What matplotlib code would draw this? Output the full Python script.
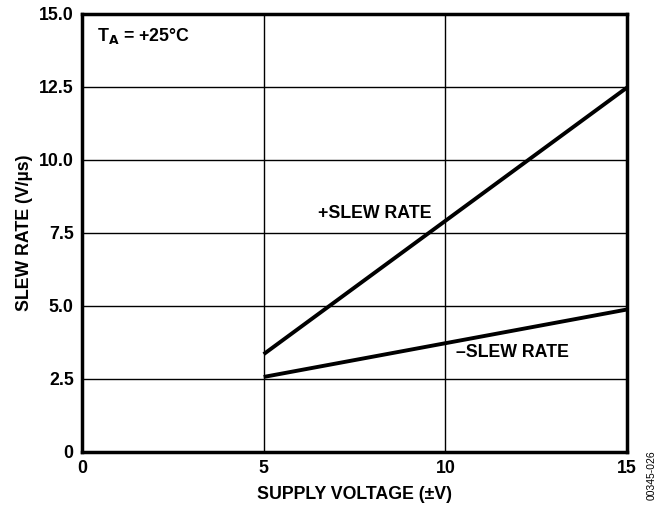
import matplotlib
matplotlib.use('Agg')
import matplotlib.pyplot as plt

# --- Data ---
supply_v = [5, 15]
slew_pos = [3.35, 12.48]
slew_neg = [2.57, 4.88]
x_ticks = [0, 5, 10, 15]
y_ticks = [0, 2.5, 5.0, 7.5, 10.0, 12.5, 15.0]
y_tick_labels = ['0', '2.5', '5.0', '7.5', '10.0', '12.5', '15.0']

plt.rcParams['font.family'] = ['Liberation Sans', 'DejaVu Sans']
plt.rcParams['font.weight'] = 'bold'
FS = 12.8

fig = plt.figure(figsize=(6.63, 5.12), dpi=100)
ax = fig.add_axes([0.1237, 0.1172, 0.8220, 0.8555])

ax.plot(supply_v, slew_pos, color='black', lw=2.8, solid_capstyle='butt')
ax.plot(supply_v, slew_neg, color='black', lw=2.8, solid_capstyle='butt')

ax.set_xlim(0, 15)
ax.set_ylim(0, 15)
ax.set_xticks(x_ticks)
ax.set_yticks(y_ticks)
ax.set_yticklabels(y_tick_labels)
ax.tick_params(length=0, labelsize=FS, pad=6)
for lab in ax.get_xticklabels() + ax.get_yticklabels():
    lab.set_fontweight('bold')
ax.grid(True, color='black', lw=1.0)
ax.set_axisbelow(True)
for s in ax.spines.values():
    s.set_linewidth(2.5)

ax.set_xlabel('SUPPLY VOLTAGE (±V)', fontsize=FS, fontweight='bold', labelpad=6)
ax.set_ylabel('SLEW RATE (V/µs)', fontsize=FS, fontweight='bold', labelpad=4)

ax.text(9.63, 8.18, '+SLEW RATE', fontsize=FS, fontweight='bold', ha='right', va='center')
ax.text(10.3, 3.40, '–SLEW RATE', fontsize=FS, fontweight='bold', ha='left', va='center')
ax.text(0.4, 14.25, r'T$_\mathbf{A}$ = +25°C', fontsize=FS, fontweight='bold', ha='left', va='center')

fig.text(0.983, 0.072, '00345-026', fontsize=7.5, fontweight='normal', rotation=90,
         ha='center', va='center')

fig.savefig('out.png', dpi=100)
